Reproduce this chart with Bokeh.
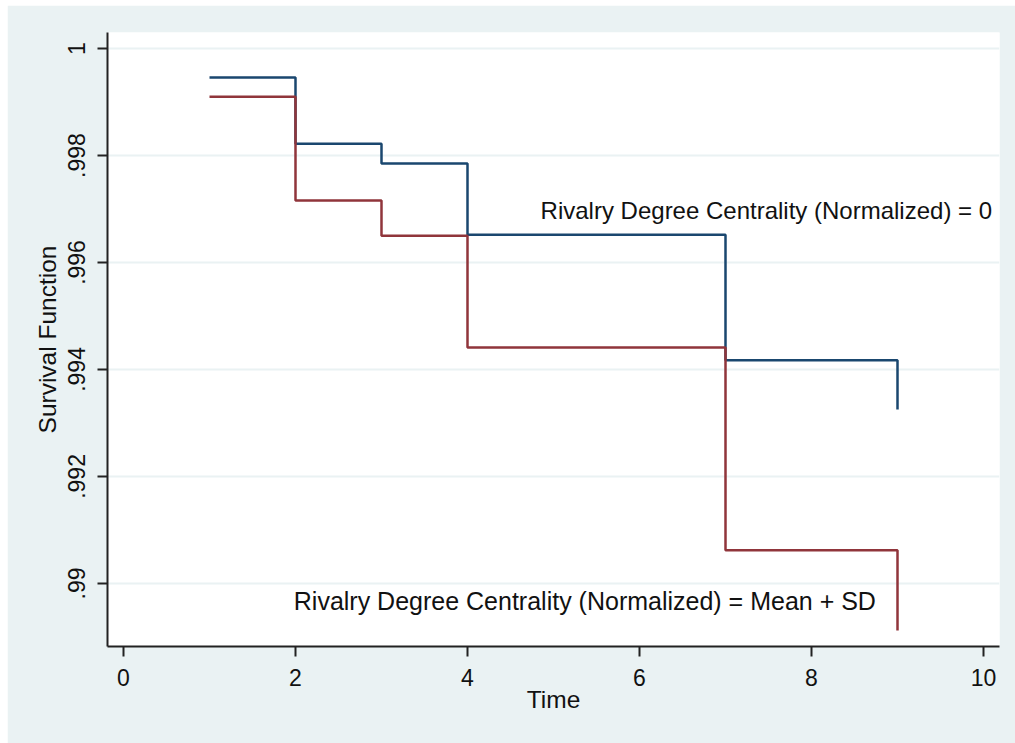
from bokeh.plotting import figure
from bokeh.models import Range1d, FixedTicker, Label
from bokeh.embed import file_html
from bokeh.resources import INLINE

# ---- data ----
times = [1, 2, 3, 4, 7, 9]
surv_zero = [0.99946, 0.99822, 0.99785, 0.99652, 0.99417, 0.99325]
surv_mean_sd = [0.99910, 0.99716, 0.99650, 0.99441, 0.99062, 0.98912]

x_ticks = [0, 2, 4, 6, 8, 10]
y_ticks = [0.99, 0.992, 0.994, 0.996, 0.998, 1.0]
y_tick_labels = [".99", ".992", ".994", ".996", ".998", "1"]

label_texts = ["Rivalry Degree Centrality (Normalized) = 0",
               "Rivalry Degree Centrality (Normalized) = Mean + SD"]
label_x = [4.85, 1.98]
label_y = [0.99697, 0.98968]
label_sizes = ["24px", "25px"]

BLUE = "#1A476F"
RED = "#90353B"
BG = "#EAF2F3"
FONT = "Liberation Sans"

p = figure(width=1008, height=738, output_backend="svg", toolbar_location=None,
           x_range=Range1d(-0.186, 10.186), y_range=Range1d(0.98882, 1.0003),
           min_border_left=100, min_border_right=16, min_border_top=27,
           min_border_bottom=97)
p.margin = (5, 0, 0, 7)

p.background_fill_color = "white"
p.border_fill_color = BG
p.outline_line_color = None

p.step(times, surv_zero, mode="after", line_color=BLUE, line_width=2.5)
p.step(times, surv_mean_sd, mode="after", line_color=RED, line_width=2.5)

for t, lx, ly, fs in zip(label_texts, label_x, label_y, label_sizes):
    p.add_layout(Label(x=lx, y=ly, text=t, text_align="left",
                       text_baseline="middle", text_font=FONT,
                       text_font_size=fs, text_color="#111111"))

# grids
p.xgrid.visible = False
p.ygrid.ticker = FixedTicker(ticks=y_ticks)
p.ygrid.grid_line_color = BG
p.ygrid.grid_line_width = 2

# axes
for ax in (p.xaxis[0], p.yaxis[0]):
    ax.axis_line_color = "#222222"
    ax.axis_line_width = 2
    ax.major_tick_line_color = "#222222"
    ax.major_tick_line_width = 2
    ax.major_tick_in = 0
    ax.major_tick_out = 10
    ax.minor_tick_line_color = None
    ax.major_label_text_font = FONT
    ax.major_label_text_font_size = "23px"
    ax.major_label_text_color = "#111111"
    ax.axis_label_text_font = FONT
    ax.axis_label_text_font_size = "24.5px"
    ax.axis_label_text_font_style = "normal"
    ax.axis_label_text_color = "#111111"

p.xaxis.ticker = FixedTicker(ticks=x_ticks)
p.xaxis.axis_label = "Time"
p.xaxis.major_label_standoff = 12
p.xaxis.axis_label_standoff = -3

p.yaxis.ticker = FixedTicker(ticks=y_ticks)
p.yaxis.major_label_overrides = {t: l for t, l in zip(y_ticks, y_tick_labels)}
p.yaxis.major_label_orientation = "vertical"
p.yaxis.axis_label = "Survival Function"
p.yaxis.major_label_standoff = 12
p.yaxis.axis_label_standoff = 5

open("out.html", "w").write(file_html(p, INLINE))
